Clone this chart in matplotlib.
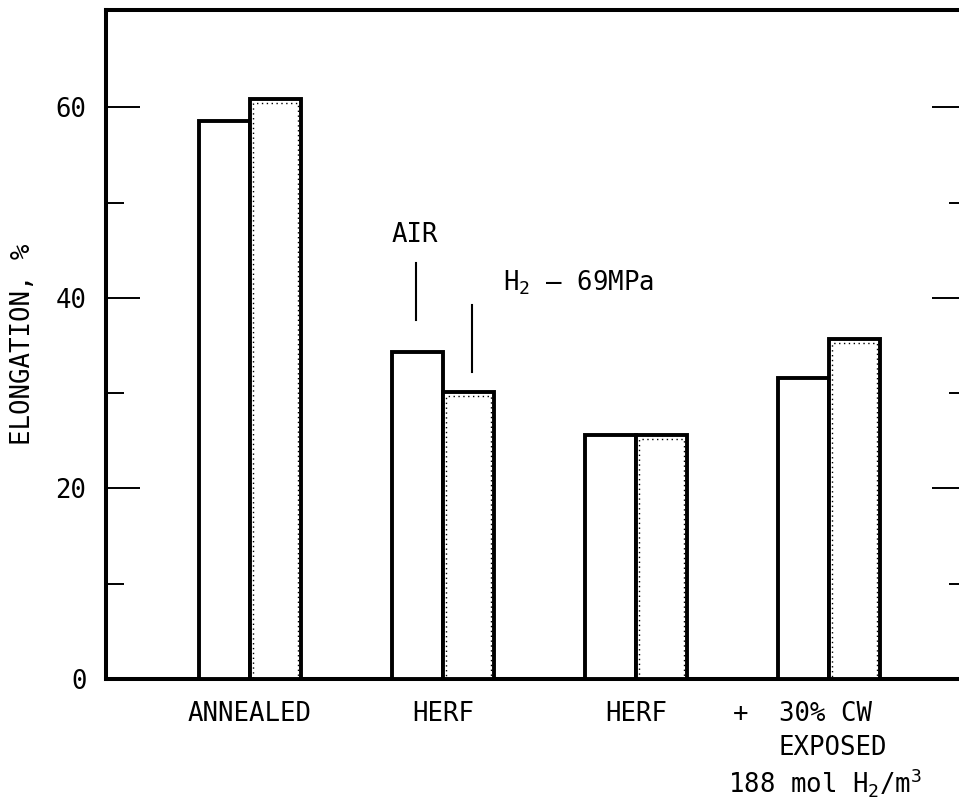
import matplotlib
matplotlib.use('Agg')
import numpy as np
import matplotlib.pyplot as plt
from matplotlib.transforms import blended_transform_factory

plt.rcParams['font.family'] = ['DejaVu Sans Mono']
plt.rcParams['mathtext.fontset'] = 'custom'
plt.rcParams['mathtext.rm'] = 'DejaVu Sans Mono'
plt.rcParams['mathtext.default'] = 'regular'

# elongation (%) for each condition, tested in air and in 69 MPa hydrogen
groups = ['ANNEALED', 'HERF', 'HERF', '']
air = [58.6, 34.3, 25.6, 31.6]
h2 = [60.9, 30.1, 25.6, 35.7]

FS = 18.5
W = 0.264

fig = plt.figure(figsize=(9.59, 7.98), dpi=100)
ax = fig.add_axes([106 / 959, 1 - 679 / 798, 1 - 106 / 959, 669 / 798])

x = np.arange(len(groups))
ax.bar(x - W / 2, air, W, facecolor='white', edgecolor='black',
       linewidth=2.8, joinstyle='miter', zorder=3)
ax.bar(x + W / 2, h2, W, facecolor='white', edgecolor='black',
       linewidth=2.8, joinstyle='miter', zorder=3)
# dotted inner rim on the hydrogen bars
ax.bar(x + W / 2, np.array(h2) - 0.45, W - 0.03, facecolor='none',
       edgecolor='black', linewidth=1.0, linestyle=(0, (1, 2.5)), zorder=4)

ax.set_xlim(-0.746, 3.674)
ax.set_ylim(0, 70.2)

ax.set_yticks([0, 20, 40, 60])
ax.set_yticks([10, 30, 50], minor=True)
ax.tick_params(axis='y', which='major', direction='in', length=24.5,
               width=1.4, labelsize=FS, pad=14)
ax.tick_params(axis='y', which='minor', direction='in', length=13, width=1.4)
ax.tick_params(axis='y', right=False, which='both')

ax.set_xticks(x)
ax.set_xticklabels(groups, fontsize=FS)
ax.tick_params(axis='x', length=0, pad=16)

ax.set_ylabel('ELONGATION, %', fontsize=FS, labelpad=14)

for side in ['left', 'bottom', 'top']:
    ax.spines[side].set_linewidth(2.9)
ax.spines['right'].set_visible(False)

# ticks along the right edge
ax2 = ax.twinx()
ax2.set_ylim(ax.get_ylim())
ax2.set_yticks([0, 20, 40, 60])
ax2.set_yticks([10, 30, 50], minor=True)
ax2.tick_params(axis='y', which='major', direction='in', length=19.5,
                width=1.4, labelright=False)
ax2.tick_params(axis='y', which='minor', direction='in', length=7, width=1.4)
for s in ax2.spines.values():
    s.set_visible(False)

# labels for the two test environments
ax.text(x[1] - W / 2 - 0.015, 46.6, 'AIR', fontsize=FS, ha='center', va='center')
ax.plot([x[1] - W / 2 - 0.01] * 2, [37.7, 43.6], color='black', lw=1.5)
ax.text(x[1] + 0.31, 41.6, 'H$_2$ — 69MPa', fontsize=FS, ha='left', va='center')
ax.plot([x[1] + 0.15] * 2, [32.2, 39.2], color='black', lw=1.5)

# third group caption
trans = blended_transform_factory(ax.transData, ax.transAxes)
ax.text(2.54, -0.0523, '+', fontsize=FS, ha='center', va='center', transform=trans)
ax.text(2.98, -0.0523, '30% CW', fontsize=FS, ha='center', va='center', transform=trans)
ax.text(3.02, -0.103, 'EXPOSED', fontsize=FS, ha='center', va='center', transform=trans)
ax.text(2.98, -0.155, '188 mol H$_2$/m$^3$', fontsize=FS, ha='center', va='center',
        transform=trans)

fig.savefig('out.png', dpi=100)
